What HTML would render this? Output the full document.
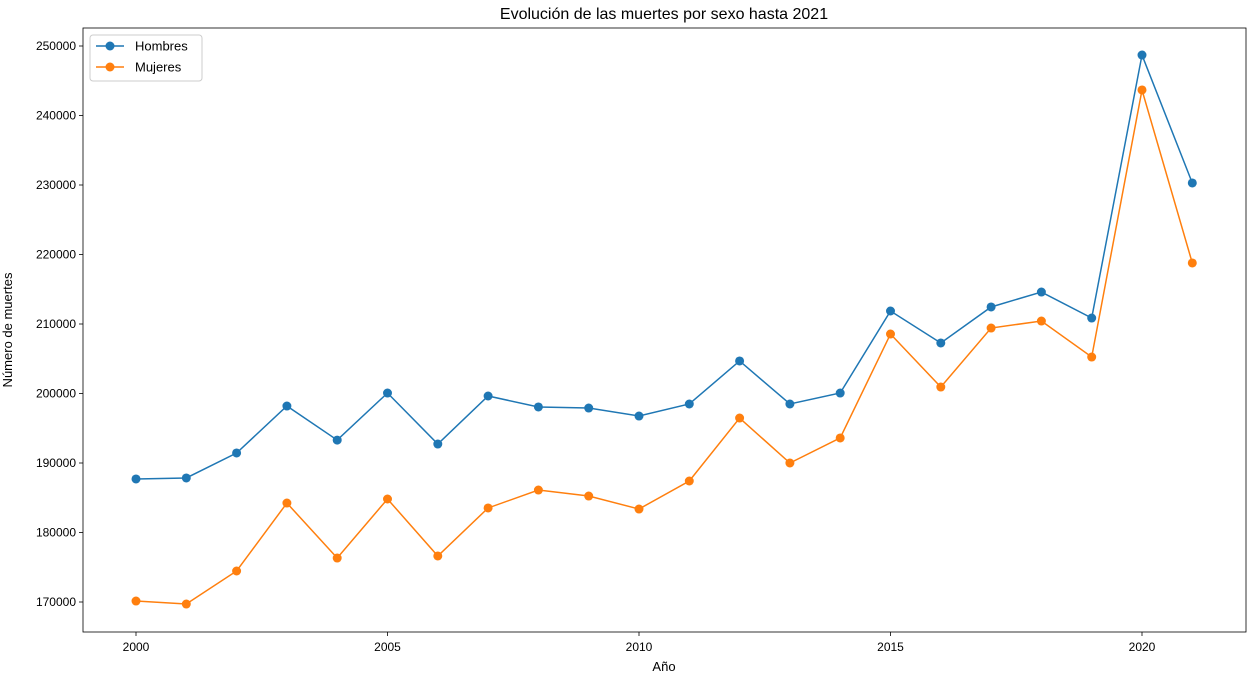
<!DOCTYPE html>
<html><head><meta charset="utf-8">
<style>
html,body{margin:0;padding:0;background:#fff;}
svg{display:block;font-family:"Liberation Sans","DejaVu Sans",sans-serif;}
</style></head>
<body>
<svg id="chart" width="1253" height="677" viewBox="0 0 1253 677"></svg>
<script>
const years = [2000,2001,2002,2003,2004,2005,2006,2007,2008,2009,2010,2011,2012,2013,2014,2015,2016,2017,2018,2019,2020,2021];
const hombres = [187700,187850,191440,198200,193300,200070,192730,199640,198060,197910,196760,198490,204680,198490,200070,211870,207270,212450,214600,210860,248700,230290];
const mujeres = [170140,169710,174460,184240,176330,184820,176620,183530,186110,185250,183380,187410,196470,190000,193600,208560,200930,209420,210430,205250,243670,218780];
const xTicks = [2000,2005,2010,2015,2020];
const yTicks = [170000,180000,190000,200000,210000,220000,230000,240000,250000];

const svg = document.getElementById('chart');
const NS = 'http://www.w3.org/2000/svg';
const L=83,R=1246,T=28,B=632;
function x(v){return 136 + (v-2000)*(1142-136)/20;}
function y(v){return 602 - (v-170000)*(602-46)/80000;}
function mk(tag,attrs,parent){const e=document.createElementNS(NS,tag);for(const k in attrs)e.setAttribute(k,attrs[k]);(parent||svg).appendChild(e);return e;}

const title=mk('text',{x:664,y:19,'text-anchor':'middle','font-size':16,fill:'#000'});
title.textContent='Evolución de las muertes por sexo hasta 2021';



xTicks.forEach(t=>{
  const g=mk('g',{});
  
  
  mk('line',{x1:x(t),x2:x(t),y1:B,y2:B+4,stroke:'#000','stroke-width':0.8},g);
  const tx=mk('text',{x:x(t),y:B+19,'text-anchor':'middle','font-size':12},g);tx.textContent=t;
});
yTicks.forEach(t=>{
  const g=mk('g',{});
  
  
  mk('line',{x1:L-4,x2:L,y1:y(t),y2:y(t),stroke:'#000','stroke-width':0.8},g);
  const tx=mk('text',{x:L-7,y:y(t)+4,'text-anchor':'end','font-size':12},g);tx.textContent=t;
});
const xl=mk('text',{x:664,y:671,'text-anchor':'middle','font-size':13});xl.textContent='Año';


const yl=mk('text',{x:12,y:330,'text-anchor':'middle','font-size':13,transform:'rotate(-90 12 330)'});yl.textContent='Número de muertes';



function series(vals,color,name){
  const g=mk('g',{});
  
  
  mk('polyline',{points:vals.map((v,i)=>x(years[i])+','+y(v)).join(' '),fill:'none',stroke:color,'stroke-width':1.5},g);
  vals.forEach((v,i)=>{
    const c=mk('circle',{cx:x(years[i]),cy:y(v),r:4.5,fill:color},g);
    
    
  });
}
series(hombres,'#1f77b4','hombres');
series(mujeres,'#ff7f0e','mujeres');

const frame=mk('rect',{x:L,y:T,width:R-L,height:B-T,fill:'none',stroke:'#000','stroke-width':0.8});



const lg=mk('g',{});


mk('rect',{x:90,y:35,width:112,height:46,rx:3,fill:'#fff',stroke:'#ccc','stroke-width':1},lg);
[['Hombres','#1f77b4',46],['Mujeres','#ff7f0e',67]].forEach(([n,c,yy])=>{
  const e=mk('g',{},lg);
  
  
  mk('line',{x1:96,x2:124,y1:yy,y2:yy,stroke:c,'stroke-width':1.5},e);
  mk('circle',{cx:110,cy:yy,r:4.5,fill:c},e);
  const t=mk('text',{x:135,y:yy+4.5,'font-size':13},e);t.textContent=n;
});
</script>
</body></html>
